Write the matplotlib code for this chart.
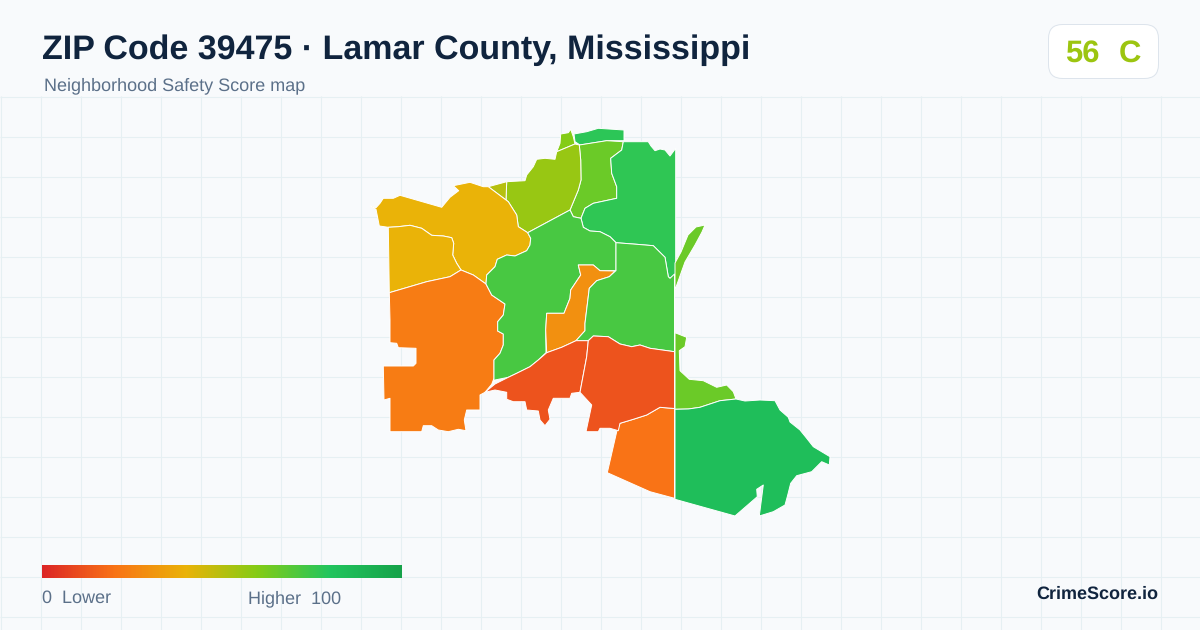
import numpy as np
import matplotlib
matplotlib.use("Agg")
import matplotlib.pyplot as plt
from matplotlib.colors import LinearSegmentedColormap
from matplotlib.patches import Polygon, FancyBboxPatch

plt.rcParams['font.family'] = ['Liberation Sans', 'DejaVu Sans']
plt.rcParams['text.hinting'] = 'no_hinting'
plt.rcParams['text.hinting_factor'] = 1

TITLE = "ZIP Code 39475 · Lamar County, Mississippi"
SUBTITLE = "Neighborhood Safety Score map"
BRAND = "CrimeScore.io"
SCORE = "56"
GRADE = "C"

STOPS = [0, .2, .4, .6, .8, 1]
STOP_COLORS = ["#dc2626", "#f97316", "#eab308", "#84cc16", "#22c55e", "#16a34a"]

# Area outlines in map units
north_yellow = [(370,206),(376,209.3),(379.3,226),(388.3,227.3),(398.3,226.7),(410,225.3),(421.7,228.3),(431.7,235.3),(443.3,236),(451.7,237.7),(453.7,243.3),(452.7,255),(456.7,263.3),(461,270),(473.3,275),(486,284),(486.7,275),(495,266.7),(497.3,259.3),(506.7,255),(515,256),(526.7,250.7),(530,245),(530.7,238.3),(527.7,232.7),(518.3,226.7),(516.7,215),(508.3,201.7),(506,200),(488.3,186.7),(483.3,186.7),(470,182.3),(453.3,185.7),(458.7,190.7),(450,197.3),(441.7,207.3),(400,195.3),(393.3,198.3),(383.3,198.3),(380,203.3),(376,207.7)]
west_yellow = [(388.3,227.3),(398.3,226.7),(410,225.3),(421.7,228.3),(431.7,235.3),(443.3,236),(451.7,237.7),(453.7,243.3),(452.7,255),(456.7,263.3),(461,270),(450,276.7),(426.7,281.7),(389.3,292.7)]
southwest_orange = [(389.3,292.7),(426.7,281.7),(450,276.7),(461,270),(473.3,275),(486,284),(491.7,295),(505,304),(503.3,315),(497.7,321.7),(497.7,331),(503.3,334),(503.3,345),(500,353.3),(494,360),(494,378.3),(491.7,384.3),(485,392.3),(480,395),(480,410),(466.7,410),(464.3,420),(466,430.7),(458.3,429.3),(448.3,431.7),(438.3,430),(431.7,425.7),(423.3,425.7),(421.7,431.7),(390,431.7),(390,398.3),(384,400),(383.3,366),(413.3,366),(416,363.3),(416,348.3),(398.3,347.7),(396.7,343.3),(390,342.7),(390,320)]
center_green = [(486,284),(486.7,275),(495,266.7),(497.3,259.3),(506.7,255),(515,256),(526.7,250.7),(530,245),(530.7,238.3),(527.7,232.7),(570,210),(573.3,216.7),(581,218.3),(583.3,227.3),(590,231),(600,231.7),(610,236.7),(616,242.7),(616,270.7),(600,270.7),(593.3,265),(578.3,265),(580.7,275),(570.7,290),(570,298.3),(564,313.3),(546.7,313.3),(545.7,330),(546,352.7),(538.3,360),(530,366.7),(516.7,373.3),(508.3,377.3),(495,380),(494,384),(494,360),(500,353.3),(503.3,345),(503.3,334),(497.7,331),(497.7,321.7),(503.3,315),(505,304),(491.7,295)]
center_orange = [(578.3,265),(593.3,265),(600,270.7),(615,271),(609.3,276.7),(596.7,280.7),(589.3,288.3),(585,323.3),(585,330.7),(576,340.7),(561.7,347.3),(546.7,352.7),(545.7,330),(546.7,313.3),(564,313.3),(570,298.3),(570.7,290),(580.7,275)]
east_center_green = [(616,242.7),(636.7,244.3),(653.3,245.7),(665,257.3),(668.3,276.7),(670,278.3),(674.5,274),(674.5,351.7),(650,348.3),(640,345),(631.7,346.7),(620,344),(608.3,336.7),(593.3,336),(588.3,340.7),(576,340.7),(585,330.7),(585,323.3),(589.3,288.3),(596.7,280.7),(609.3,276.7),(615.5,271),(616,270.7)]
northeast_green = [(623.3,141.7),(638.3,141.7),(648.3,141.7),(651,146),(655,150.7),(660,149),(665,150),(670,156),(675.7,148.3),(675.7,274),(670,278.3),(668.3,276.7),(665,257.3),(653.3,245.7),(636.7,244.3),(616,242.7),(610,236.7),(600,231.7),(590,231),(583.3,227.3),(581,218.3),(585,208.3),(593.3,203.3),(616.7,198.3),(616.7,186.7),(611.7,173.3),(610.7,158.3),(621.7,150)]
north_lime = [(579.3,145),(606.7,140.7),(623.3,141.7),(621.7,150),(610.7,158.3),(611.7,173.3),(616.7,186.7),(616.7,198.3),(593.3,203.3),(585,208.3),(581,218.3),(573.3,216.7),(570,210),(578.3,190),(581,180),(580.7,160)]
olive = [(579.3,145),(580.7,160),(581,180),(578.3,190),(570,210),(527.7,232.7),(518.3,226.7),(516.7,215),(508.3,201.7),(506,200),(506.7,181.7),(525,180.7),(526.7,175),(533.3,166.7),(536.7,159.3),(545,158.3),(555,159.3),(556.7,151.7),(575,144)]
sliver_yellow = [(488.3,186.7),(506.7,181.7),(506,200)]
top_lime = [(556.7,151.7),(560,143.3),(560.7,134),(568.3,132.7),(570.7,129.3),(573.3,136.7),(575,144)]
top_strip = [(574,134),(586.7,131.7),(598.3,128.3),(624,130),(624,140.7),(606.7,140.7),(580,145),(575,141.7)]
east_sliver = [(675,290),(675,263),(681,252),(688,235),(696,227),(705,225),(702,232),(695,245),(685,262),(680,276)]
south_lime = [(675,332.7),(686.7,337.3),(685,346.7),(679.3,350.7),(680,370.7),(689.3,379.3),(703.3,380.7),(716.7,387.3),(726.7,385),(733.3,391.7),(736,399),(720,400.7),(700,407.3),(688.3,409),(675,409.3)]
southeast_green = [(675,409.3),(688.3,409),(700,407.3),(720,400.7),(736,399),(745,401),(760,400),(775,400.7),(780,410),(788.3,417.3),(790,422),(800,430),(806.7,438.3),(813.3,446.7),(823.3,452.7),(830,456.7),(829.3,465),(821.7,461.7),(811.7,471.7),(796.7,475.7),(790.7,483.3),(787.3,496.7),(785,505),(773.3,511.7),(759.3,516),(763.3,485),(756.7,489.3),(757.3,496.7),(735,516),(675,499.3)]
south_orange = [(674.5,408.5),(660,407.3),(646.7,415),(633.3,419.3),(620,423.3),(616.7,431.7),(607.3,472.7),(650,491.7),(674.5,498.3)]
red_west = [(485,392.3),(495,384),(508.3,377.3),(516.7,373.3),(530,366.7),(538.3,360),(546.7,352.7),(561.7,347.3),(576,340.7),(588.3,340.7),(586.7,356.7),(580,392.3),(571.7,393.3),(570,398.3),(553.3,398.3),(548.3,410),(550,419.3),(545,425.7),(540,420),(538.3,411),(526.7,410),(525,401.7),(513.3,401.7),(506.7,399.3),(506.7,392.3),(495,390)]
red_east = [(588.3,340.7),(593.3,336),(608.3,336.7),(620,344),(631.7,346.7),(640,345),(650,348.3),(674.5,351.7),(674.5,408.5),(660,407.3),(646.7,415),(633.3,419.3),(620,423.3),(618.3,430.7),(610,428.3),(600,428.3),(598.3,431.7),(586,431.7),(591.7,405),(580,392.3),(586.7,356.7)]

AREAS = [top_strip, top_lime, north_lime, northeast_green, olive, sliver_yellow,
         north_yellow, west_yellow, southwest_orange, center_green, center_orange,
         east_center_green, east_sliver, south_lime, southeast_green, south_orange,
         red_west, red_east]
AREA_SCORES = [78, 60, 65, 77, 56, 50,
               40, 40, 23, 72, 29,
               72, 65, 65, 84, 20,
               12, 12]

cmap = LinearSegmentedColormap.from_list("safety", list(zip(STOPS, STOP_COLORS)))

W, H = 1200, 630
fig = plt.figure(figsize=(W / 100, H / 100), dpi=100, facecolor="#f8fafc")
ax = fig.add_axes([0, 0, 1, 1])
ax.set_xlim(0, W)
ax.set_ylim(H, 0)
ax.axis("off")

GRID = "#e6f0f3"
ax.vlines(np.arange(0.5, W, 40), 96, H, color=GRID, lw=0.8, zorder=1)
ax.hlines(np.arange(96.5, H, 40), 0, W, color=GRID, lw=0.8, zorder=1)

for pts, s in zip(AREAS, AREA_SCORES):
    ax.add_patch(Polygon(pts, closed=True, facecolor=cmap(s / 100), edgecolor="white",
                         lw=0.7, joinstyle="round", zorder=3))

# Legend
grad = np.linspace(0, 1, 360).reshape(1, -1)
ax.imshow(grad, cmap=cmap, extent=(42, 402, 578, 565), aspect="auto", zorder=4, interpolation="bilinear")
ax.set_xlim(0, W)
ax.set_ylim(H, 0)
LEG = "#5b7089"
ax.text(42, 603, "0  Lower", fontsize=12.95, color=LEG, va="baseline", ha="left", zorder=5)
ax.text(341.5, 603, "Higher  100", fontsize=12.95, color=LEG, va="baseline", ha="right", zorder=5)

# Header
ax.text(42, 59, TITLE, fontsize=24.5, fontweight="bold", color="#10243e", va="baseline", ha="left", zorder=5)
ax.text(44, 90, SUBTITLE, fontsize=12.95, color="#5b7089", va="baseline", ha="left", zorder=5)

# Badge
ax.add_patch(FancyBboxPatch((1048.5 + 14, 24.5 + 14), 110 - 28, 54 - 28, boxstyle="round,pad=14,rounding_size=14",
                            facecolor="white", edgecolor="#dde4ec", lw=0.72, zorder=4))
ax.text(1065.5, 62, SCORE, fontsize=22.5, fontweight="bold", color="#9cc510", va="baseline", ha="left", zorder=5)
ax.text(1141, 62, GRADE, fontsize=22.5, fontweight="bold", color="#9cc510", va="baseline", ha="right", zorder=5)

ax.text(1158, 599, BRAND, fontsize=13, fontweight="bold", color="#10243e", va="baseline", ha="right", zorder=5)

fig.savefig("out.png", dpi=100, facecolor=fig.get_facecolor())
